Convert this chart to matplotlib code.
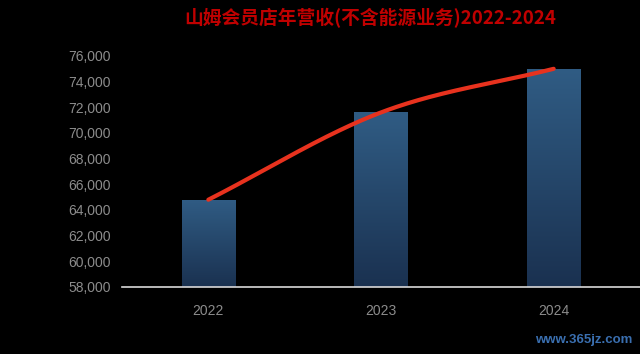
import numpy as np
import matplotlib
matplotlib.use("Agg")
import matplotlib.pyplot as plt
from matplotlib.ticker import FuncFormatter
from matplotlib.colors import LinearSegmentedColormap

plt.rcParams['font.family'] = ['Liberation Sans', 'Noto Sans CJK SC', 'DejaVu Sans']

years = ["2022", "2023", "2024"]
revenue = [64800, 71600, 75000]
title = "山姆会员店年营收(不含能源业务)2022-2024"
watermark = "www.365jz.com"

fig = plt.figure(figsize=(6.4, 3.54), dpi=100, facecolor='black')
ymin, ymax = 58000, 77700
px_per = 25.67 / 2000
h = (ymax - ymin) * px_per
ax = fig.add_axes([122/640, 1-287/354, 518/640, h/354])
ax.set_facecolor('black')

x = np.arange(len(years))
bw = 0.31
grad = np.linspace(0, 1, 256).reshape(-1, 1)
cmap = LinearSegmentedColormap.from_list('b', ['#1a3150', '#305c84'])
for xi, v in zip(x, revenue):
    bar = ax.bar(xi, v - ymin, bottom=ymin, width=bw, color='none', zorder=2)[0]
    im = ax.imshow(grad, extent=[xi - bw/2, xi + bw/2, ymin, v], origin='lower',
                   cmap=cmap, aspect='auto', zorder=2)
    im.set_clip_path(bar)
ax.set_aspect('auto')
ax.set_xlim(-0.5, len(years) - 0.5)
ax.set_ylim(ymin, ymax)

# cardinal (Catmull-Rom style) smoothing through the data points, in display-like units
sx = 172.7
sy = px_per
P = np.column_stack([x * sx, np.array(revenue) * sy])
n = len(P)
T = np.zeros_like(P)
T[0] = P[1] - P[0]
T[-1] = P[-1] - P[-2]
for i in range(1, n - 1):
    T[i] = (P[i + 1] - P[i - 1]) / 2
curve = []
t = np.linspace(0, 1, 80)[:, None]
for i in range(n - 1):
    h00 = 2*t**3 - 3*t**2 + 1
    h10 = t**3 - 2*t**2 + t
    h01 = -2*t**3 + 3*t**2
    h11 = t**3 - t**2
    seg = h00*P[i] + h10*T[i] + h01*P[i+1] + h11*T[i+1]
    curve.append(seg)
curve = np.vstack(curve)
ax.plot(curve[:, 0] / sx, curve[:, 1] / sy, color='#e8321e', lw=3,
        solid_capstyle='round', zorder=3)

ax.set_yticks(np.arange(58000, 76001, 2000))
ax.yaxis.set_major_formatter(FuncFormatter(lambda v, p: f"{int(v):,}"))
ax.set_xticks(x)
ax.set_xticklabels(years)
ax.tick_params(axis='both', colors='#8c8c8c', labelsize=10, length=0)
ax.tick_params(axis='y', pad=8)
ax.tick_params(axis='x', pad=12)
for s in ['top', 'right', 'left']:
    ax.spines[s].set_visible(False)
ax.spines['bottom'].set_color('#d9d9d9')
ax.spines['bottom'].set_linewidth(1.2)

fig.text(370/640, 1-18/354, title, color='#c00000', fontsize=13.5, fontweight='bold',
         ha='center', va='center', family=['Noto Sans CJK SC', 'DejaVu Sans'])
fig.text(632/640, 1-340/354, watermark, color='#3a6fb0', fontsize=9.5, fontweight='bold',
         ha='right', va='center')

fig.savefig('out.png', dpi=100, facecolor='black')
